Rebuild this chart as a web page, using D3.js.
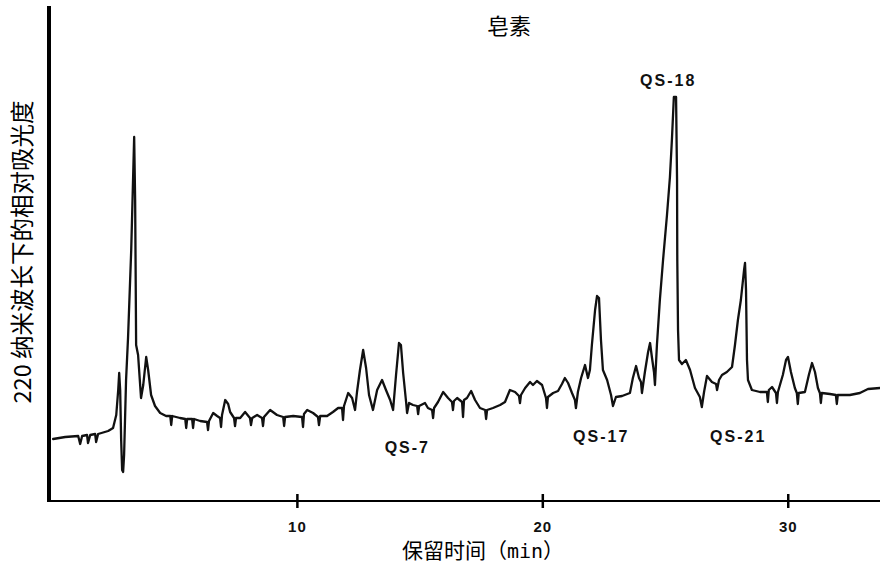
<!DOCTYPE html>
<html>
<head>
<meta charset="utf-8">
<script src="https://cdn.jsdelivr.net/npm/d3@7/dist/d3.min.js"></script>
<style>
  html, body { margin: 0; padding: 0; background: #fff; }
  svg { display: block; }
</style>
</head>
<body>
<svg id="chart" width="880" height="570"></svg>
<script>
// Retention time (min) of each recorded point of the trace
const retentionTime = [
  0.07, 0.56, 1.09, 1.17, 1.25, 1.45, 1.49, 1.58, 1.78, 1.82,
  1.90, 2.31, 2.51, 2.64, 2.72, 2.76, 2.80, 2.84, 2.88, 2.92,
  2.96, 3.04, 3.12, 3.25, 3.37, 3.41, 3.45, 3.53, 3.65, 3.74,
  3.86, 3.94, 4.06, 4.22, 4.43, 4.67, 4.84, 4.88, 4.92, 5.24,
  5.45, 5.49, 5.53, 5.73, 5.77, 5.81, 6.06, 6.34, 6.38, 6.42,
  6.59, 6.75, 6.87, 6.91, 6.95, 7.08, 7.20, 7.28, 7.44, 7.48,
  7.52, 7.69, 7.89, 8.09, 8.13, 8.18, 8.38, 8.58, 8.62, 8.66,
  8.91, 9.19, 9.44, 9.48, 9.52, 9.85, 10.21, 10.25, 10.29, 10.42,
  10.66, 10.86, 10.90, 10.95, 11.23, 11.47, 11.68, 11.84, 11.88, 11.92,
  12.09, 12.25, 12.37, 12.45, 12.57, 12.70, 12.82, 12.94, 13.10, 13.27,
  13.47, 13.63, 13.80, 13.92, 14.04, 14.16, 14.24, 14.33, 14.45, 14.49,
  14.57, 14.73, 14.90, 14.94, 14.98, 15.22, 15.34, 15.51, 15.55, 15.59,
  15.75, 15.96, 16.16, 16.32, 16.36, 16.40, 16.53, 16.73, 16.77, 16.81,
  16.93, 17.10, 17.26, 17.46, 17.67, 17.71, 17.75, 17.99, 18.28, 18.48,
  18.68, 18.89, 19.05, 19.09, 19.13, 19.30, 19.50, 19.62, 19.78, 19.99,
  20.15, 20.19, 20.23, 20.44, 20.64, 20.80, 20.92, 21.05, 21.21, 21.33,
  21.37, 21.45, 21.58, 21.74, 21.86, 21.94, 22.02, 22.15, 22.23, 22.31,
  22.39, 22.47, 22.64, 22.80, 22.88, 23.00, 23.25, 23.57, 23.69, 23.82,
  23.94, 24.02, 24.06, 24.18, 24.31, 24.39, 24.47, 24.55, 24.59, 24.67,
  24.79, 24.92, 25.08, 25.20, 25.28, 25.36, 25.45, 25.49, 25.50, 25.53,
  25.57, 25.69, 25.85, 26.02, 26.22, 26.42, 26.50, 26.59, 26.71, 26.91,
  27.08, 27.12, 27.20, 27.32, 27.52, 27.73, 27.85, 27.97, 28.09, 28.22,
  28.26, 28.30, 28.34, 28.38, 28.54, 28.87, 29.07, 29.15, 29.19, 29.23,
  29.36, 29.52, 29.56, 29.60, 29.80, 29.93, 30.01, 30.13, 30.29, 30.37,
  30.41, 30.45, 30.70, 30.86, 30.99, 31.11, 31.23, 31.31, 31.35, 31.39,
  31.72, 31.96, 32.00, 32.04, 32.53, 32.94, 33.27, 33.76
];

// Relative absorbance at 220 nm for each point above
const absorbance = [
  12.4, 12.8, 13.0, 11.4, 13.0, 13.2, 11.6, 13.2, 13.4, 11.8,
  13.4, 14.0, 14.6, 17.2, 22.2, 25.6, 22.2, 12.2, 6.2, 5.8,
  9.2, 24.2, 32.6, 50.2, 72.8, 60.2, 31.2, 29.2, 20.6, 23.2,
  28.8, 26.2, 21.2, 19.0, 17.6, 17.0, 17.0, 15.2, 17.0, 16.6,
  16.4, 14.6, 16.4, 16.4, 14.6, 16.4, 16.0, 15.8, 14.2, 16.0,
  17.6, 17.0, 16.6, 14.8, 17.2, 20.2, 19.4, 17.8, 16.6, 15.0,
  16.6, 16.6, 17.8, 16.6, 15.2, 16.6, 17.2, 16.6, 15.0, 16.8,
  18.2, 17.2, 16.8, 15.0, 16.8, 17.0, 16.8, 14.8, 17.4, 18.2,
  17.6, 16.8, 15.2, 17.0, 17.0, 17.8, 18.6, 18.6, 16.2, 19.0,
  21.6, 20.6, 18.2, 21.8, 26.2, 30.2, 26.6, 21.2, 18.2, 22.2,
  24.2, 22.2, 20.2, 18.2, 25.2, 31.6, 31.2, 25.6, 19.8, 17.6,
  19.6, 19.2, 19.0, 17.4, 19.0, 19.6, 18.6, 18.2, 16.6, 18.6,
  19.8, 21.8, 20.6, 19.8, 18.2, 20.0, 20.6, 19.8, 16.8, 20.2,
  20.6, 22.0, 20.2, 18.6, 18.2, 16.4, 18.2, 18.6, 19.2, 19.8,
  22.2, 21.8, 21.0, 19.6, 21.2, 22.6, 23.8, 23.2, 24.0, 23.2,
  20.6, 18.6, 20.8, 21.6, 22.0, 23.4, 24.6, 23.6, 21.6, 20.2,
  18.6, 21.8, 24.6, 27.2, 24.6, 26.2, 31.2, 38.2, 41.0, 40.6,
  32.2, 26.2, 24.2, 21.2, 19.0, 20.8, 21.0, 21.6, 24.6, 27.0,
  24.6, 23.8, 21.6, 25.8, 29.8, 31.6, 28.6, 25.8, 23.2, 31.2,
  40.2, 48.2, 57.2, 64.8, 72.2, 80.8, 80.8, 64.2, 48.2, 34.2,
  28.2, 27.4, 28.2, 26.2, 22.6, 20.8, 18.8, 21.8, 25.0, 23.8,
  23.4, 22.2, 24.2, 25.2, 25.8, 26.8, 31.2, 36.2, 40.2, 46.2,
  47.6, 42.2, 28.2, 24.2, 22.2, 21.8, 21.8, 21.8, 19.8, 22.2,
  22.8, 21.6, 19.6, 21.8, 25.2, 28.2, 28.8, 25.8, 22.6, 21.6,
  19.4, 21.6, 21.8, 25.2, 27.6, 25.8, 22.6, 21.6, 19.6, 21.6,
  21.4, 21.2, 19.4, 21.2, 21.2, 21.6, 22.4, 22.6
];

// Axis ticks (min)
const xTicks = [10, 20, 30];

// Named peaks: label, retention time, label height (relative absorbance)
const peakNames = ["QS-7", "QS-17", "QS-18", "QS-21"];
const peakTimes = [14.5, 22.4, 25.13, 27.98];
const peakLabelLevels = [10.4, 12.6, 83.8, 12.6];

const titleText = "皂素";
const xTitle = "保留时间（";
const xTitleUnit = "min";
const xTitleEnd = "）";
const yTitle = "220 纳米波长下的相对吸光度";

const svg = d3.select("#chart");
const W = 880, H = 570;

const x = d3.scaleLinear().domain([-0.1, 33.8]).range([49, 881]);
const y = d3.scaleLinear().domain([0, 99]).range([501, 6]);

const cjk = "'Noto Sans CJK SC', 'Noto Sans', sans-serif";
const latinBold = "'Liberation Sans', Arial, Helvetica, sans-serif";

// Y axis: heavy vertical rule, no ticks
svg.append("line")
  .attr("x1", x(-0.1)).attr("x2", x(-0.1))
  .attr("y1", y(99)).attr("y2", y(0) + 1)
  .attr("stroke", "#000").attr("stroke-width", 4);

// X axis
const xAxis = d3.axisBottom(x)
  .tickValues(xTicks)
  .tickSize(6)
  .tickPadding(14)
  .tickFormat(d3.format("d"));

const gx = svg.append("g")
  .attr("transform", `translate(0,${y(0)})`)
  .call(xAxis);

gx.select(".domain")
  .attr("d", `M${x(-0.1)},0H${W}`)
  .attr("stroke", "#000")
  .attr("stroke-width", 2);
gx.selectAll(".tick line")
  .attr("y1", -7).attr("y2", 7)
  .attr("stroke", "#000")
  .attr("stroke-width", 2.5);
gx.selectAll(".tick text")
  .attr("font-family", latinBold)
  .attr("font-weight", "bold")
  .attr("font-size", 15)
  .attr("letter-spacing", 1)
  .attr("fill", "#111");

// Chromatogram trace
const points = retentionTime.map((t, i) => [t, absorbance[i]]);
const line = d3.line()
  .x(d => x(d[0]))
  .y(d => y(d[1]));

svg.append("path")
  .datum(points)
  .attr("d", line)
  .attr("fill", "none")
  .attr("stroke", "#111")
  .attr("stroke-width", 2.3)
  .attr("stroke-linejoin", "round")
  .attr("stroke-linecap", "round");

// Peak labels
svg.append("g")
  .selectAll("text")
  .data(peakNames)
  .join("text")
  .attr("x", (d, i) => x(peakTimes[i]))
  .attr("y", (d, i) => y(peakLabelLevels[i]))
  .attr("text-anchor", "middle")
  .attr("dominant-baseline", "middle")
  .attr("font-family", latinBold)
  .attr("font-weight", "bold")
  .attr("font-size", 16)
  .attr("letter-spacing", 2)
  .attr("fill", "#111")
  .text(d => d);

// Title
svg.append("text")
  .attr("x", 509).attr("y", 28)
  .attr("text-anchor", "middle")
  .attr("dominant-baseline", "middle")
  .attr("font-family", cjk)
  .attr("font-size", 22)
  .attr("fill", "#000")
  .text(titleText);

// X axis title
const xt = svg.append("text")
  .attr("x", 483).attr("y", 552)
  .attr("text-anchor", "middle")
  .attr("dominant-baseline", "middle")
  .attr("font-family", cjk)
  .attr("font-size", 21)
  .attr("fill", "#000");
xt.append("tspan").text(xTitle);
xt.append("tspan")
  .attr("font-family", "'DejaVu Sans Mono', 'Liberation Mono', monospace")
  .attr("font-size", 20)
  .text(xTitleUnit);
xt.append("tspan").text(xTitleEnd);

// Y axis title
svg.append("text")
  .attr("transform", `translate(25,252) rotate(-90)`)
  .attr("text-anchor", "middle")
  .attr("dominant-baseline", "middle")
  .attr("font-family", cjk)
  .attr("font-size", 23.5)
  .attr("fill", "#000")
  .text(yTitle);
</script>
</body>
</html>
